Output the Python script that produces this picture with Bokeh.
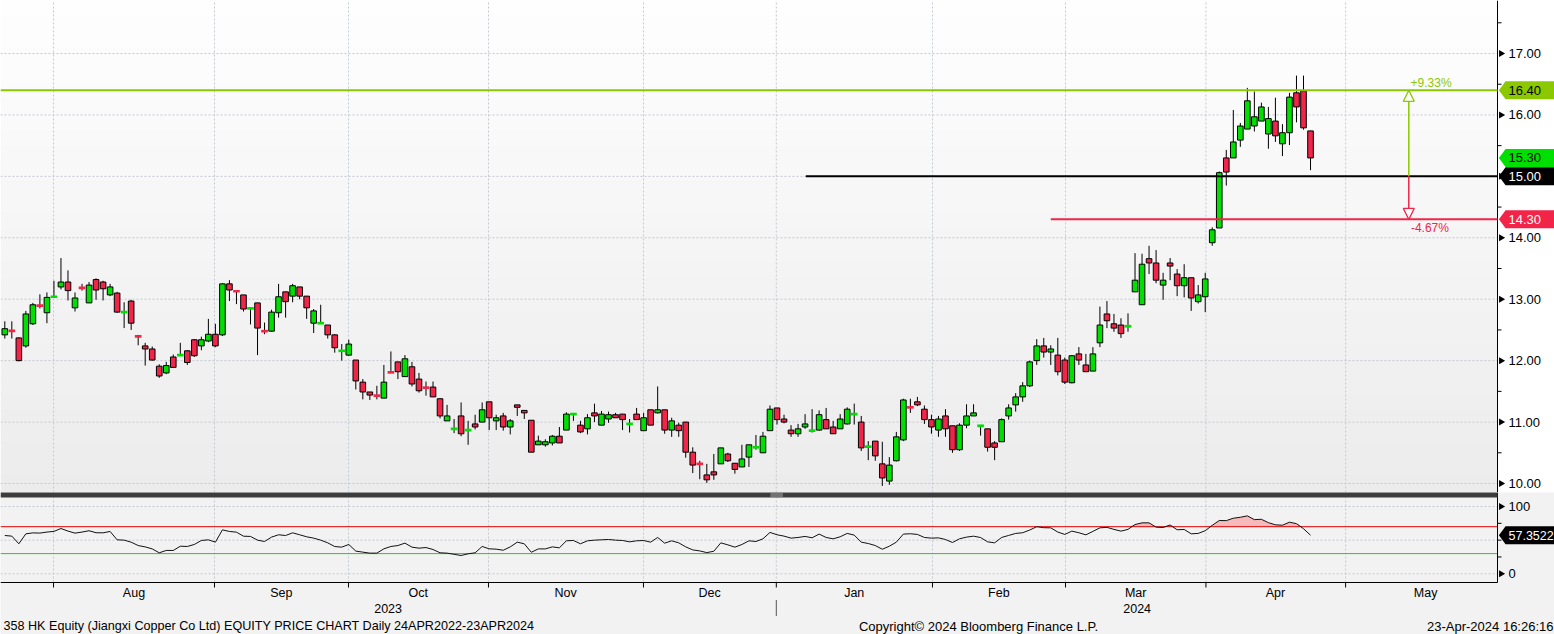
import numpy as np
from bokeh.plotting import figure
from bokeh.layouts import column
from bokeh.models import Span, BoxAnnotation, Arrow, NormalHead, Range1d, ColumnDataSource
from bokeh.core.properties import value
from bokeh.embed import file_html
from bokeh.resources import INLINE

# ---------------- data (one entry per trading day) ----------------
opens = [12.42, 12.50, 12.37, 12.24, 12.60, 12.91, 12.78, 13.03, 13.20, 13.28,
         12.86, 13.20, 12.94, 13.32, 13.28, 13.07, 13.10, 12.78, 12.97, 12.41,
         12.24, 12.19, 11.91, 11.80, 12.06, 12.08, 12.16, 12.34, 12.24, 12.32,
         12.43, 12.42, 13.25, 13.14, 13.07, 12.84, 12.94, 12.49, 12.48, 12.78,
         13.12, 13.05, 13.20, 13.05, 12.61, 12.60, 12.58, 12.42, 12.15, 12.09,
         12.01, 11.65, 11.49, 11.44, 11.39, 11.82, 11.98, 11.74, 11.90, 11.70,
         11.57, 11.57, 11.38, 11.02, 10.88, 11.10, 10.86, 10.97, 11.00, 11.33,
         11.02, 11.10, 10.92, 11.28, 11.19, 11.03, 10.63, 10.63, 10.66, 10.77,
         10.87, 11.12, 10.95, 10.89, 11.15, 10.95, 11.05, 11.12, 11.13, 10.96,
         11.13, 10.86, 11.20, 11.15, 11.20, 10.87, 10.95, 11.00, 10.51, 10.33,
         10.14, 10.19, 10.32, 10.48, 10.33, 10.27, 10.43, 10.58, 10.50, 10.86,
         11.23, 11.05, 10.87, 10.81, 10.92, 10.85, 10.87, 11.04, 10.92, 10.89,
         10.97, 11.12, 11.00, 10.59, 10.69, 10.32, 10.04, 10.37, 10.71, 11.25,
         11.33, 11.21, 11.04, 10.87, 11.10, 10.94, 10.55, 10.95, 11.10, 10.93,
         10.89, 10.66, 10.68, 11.10, 11.28, 11.41, 11.59, 12.00, 12.24, 12.14,
         12.09, 12.01, 11.64, 12.11, 11.93, 11.83, 12.29, 12.76, 12.60, 12.58,
         12.55, 13.12, 12.91, 13.66, 13.59, 13.23, 13.59, 13.41, 13.22, 13.35,
         12.96, 13.04, 13.92, 14.16, 15.30, 15.30, 15.59, 15.77, 15.82, 15.90,
         15.69, 15.90, 15.53, 15.71, 16.36, 16.39, 15.74]
highs = [12.64, 12.64, 12.38, 12.81, 12.94, 13.08, 13.11, 13.30, 13.67, 13.47,
         13.11, 13.25, 13.28, 13.34, 13.30, 13.25, 13.12, 12.95, 12.99, 12.42,
         12.29, 12.23, 11.94, 11.98, 12.10, 12.29, 12.17, 12.35, 12.39, 12.68,
         12.60, 13.26, 13.31, 13.14, 13.07, 12.86, 12.94, 12.62, 12.83, 13.25,
         13.12, 13.25, 13.20, 13.05, 12.84, 12.91, 12.58, 12.43, 12.27, 12.34,
         12.01, 11.70, 11.49, 11.59, 11.93, 12.15, 11.98, 12.09, 11.98, 11.80,
         11.66, 11.66, 11.38, 11.28, 11.05, 11.32, 11.02, 11.12, 11.32, 11.33,
         11.12, 11.15, 11.05, 11.28, 11.19, 11.03, 10.78, 10.72, 10.79, 10.92,
         11.16, 11.14, 11.02, 11.13, 11.30, 11.18, 11.17, 11.15, 11.13, 11.05,
         11.23, 11.15, 11.20, 11.58, 11.20, 11.07, 10.99, 11.00, 10.59, 10.37,
         10.32, 10.48, 10.58, 10.50, 10.33, 10.63, 10.63, 10.79, 10.84, 11.27,
         11.23, 11.12, 10.95, 10.97, 11.13, 11.21, 11.19, 11.23, 11.02, 11.13,
         11.24, 11.30, 11.10, 10.69, 10.69, 10.68, 10.43, 10.84, 11.38, 11.38,
         11.41, 11.27, 11.12, 11.10, 11.21, 10.94, 10.98, 11.29, 11.29, 10.95,
         10.89, 10.69, 11.06, 11.29, 11.47, 11.65, 12.00, 12.35, 12.37, 12.25,
         12.37, 12.05, 12.09, 12.22, 12.11, 12.22, 12.88, 12.97, 12.76, 12.69,
         12.77, 13.75, 13.74, 13.87, 13.80, 13.43, 13.67, 13.49, 13.57, 13.35,
         13.23, 13.43, 14.17, 15.08, 15.43, 16.08, 15.87, 16.44, 16.38, 16.20,
         16.13, 16.28, 15.85, 16.36, 16.64, 16.64, 15.74]
lows = [12.36, 12.36, 11.99, 12.21, 12.58, 12.85, 12.61, 13.03, 13.16, 12.98,
        12.80, 13.14, 12.94, 12.99, 12.98, 13.05, 12.78, 12.53, 12.50, 12.25,
        11.92, 12.00, 11.72, 11.78, 11.88, 12.08, 11.93, 12.06, 12.17, 12.30,
        12.22, 12.40, 12.97, 12.92, 12.80, 12.59, 12.09, 12.43, 12.47, 12.70,
        12.70, 12.95, 13.00, 12.68, 12.45, 12.60, 12.36, 12.13, 12.00, 12.08,
        11.53, 11.37, 11.36, 11.37, 11.39, 11.80, 11.70, 11.74, 11.58, 11.48,
        11.43, 11.41, 11.06, 11.02, 10.82, 10.77, 10.63, 10.88, 11.00, 10.87,
        10.87, 10.86, 10.80, 11.10, 11.05, 10.51, 10.63, 10.60, 10.62, 10.66,
        10.87, 11.02, 10.82, 10.80, 11.00, 10.95, 10.99, 11.07, 10.87, 10.83,
        11.04, 10.86, 10.95, 11.14, 10.81, 10.76, 10.76, 10.42, 10.17, 10.07,
        10.01, 10.06, 10.32, 10.35, 10.16, 10.27, 10.27, 10.55, 10.50, 10.86,
        10.96, 10.98, 10.76, 10.76, 10.89, 10.83, 10.86, 10.89, 10.81, 10.89,
        10.96, 10.96, 10.53, 10.38, 10.37, 9.96, 9.98, 10.36, 10.69, 11.15,
        11.26, 10.97, 10.81, 10.76, 10.76, 10.50, 10.53, 10.90, 11.10, 10.78,
        10.52, 10.38, 10.68, 11.04, 11.17, 11.33, 11.57, 11.93, 12.05, 11.93,
        11.76, 11.62, 11.63, 11.93, 11.82, 11.83, 12.22, 12.53, 12.47, 12.37,
        12.47, 13.12, 12.91, 13.41, 13.26, 12.99, 13.31, 13.05, 13.03, 12.81,
        12.93, 12.79, 13.87, 14.16, 14.85, 15.30, 15.48, 15.77, 15.73, 15.90,
        15.45, 15.56, 15.33, 15.51, 15.88, 15.76, 15.10]
closes = [12.52, 12.47, 12.00, 12.76, 12.91, 12.88, 13.03, 13.05, 13.28, 13.14,
          13.02, 13.17, 13.23, 13.15, 13.17, 13.20, 12.79, 12.80, 12.61, 12.38,
          12.19, 12.01, 11.75, 11.92, 11.89, 12.10, 11.97, 12.08, 12.34, 12.43,
          12.24, 13.25, 13.15, 13.12, 12.84, 12.86, 12.53, 12.47, 12.79, 13.04,
          12.96, 13.22, 13.05, 12.86, 12.81, 12.62, 12.42, 12.21, 12.17, 12.27,
          11.67, 11.49, 11.44, 11.42, 11.65, 11.80, 11.82, 12.03, 11.62, 11.51,
          11.55, 11.41, 11.10, 11.10, 10.90, 10.81, 10.88, 10.92, 11.20, 11.07,
          11.07, 10.92, 11.02, 11.24, 11.15, 10.51, 10.69, 10.68, 10.77, 10.66,
          11.13, 11.14, 10.84, 11.07, 11.10, 11.13, 11.12, 11.07, 11.04, 10.98,
          11.04, 11.07, 10.95, 11.20, 10.87, 11.02, 10.86, 10.51, 10.30, 10.31,
          10.06, 10.14, 10.58, 10.37, 10.23, 10.40, 10.63, 10.60, 10.77, 11.21,
          11.04, 11.00, 10.81, 10.89, 10.97, 10.87, 11.12, 10.89, 10.81, 11.05,
          11.21, 11.14, 10.58, 10.61, 10.45, 10.09, 10.30, 10.76, 11.36, 11.23,
          11.28, 11.04, 10.92, 11.05, 10.89, 10.55, 10.95, 11.10, 11.15, 10.95,
          10.59, 10.59, 11.04, 11.23, 11.41, 11.59, 11.98, 12.24, 12.14, 12.19,
          11.82, 11.65, 12.08, 12.01, 11.82, 12.11, 12.58, 12.65, 12.53, 12.44,
          12.57, 13.31, 13.57, 13.59, 13.31, 13.31, 13.54, 13.22, 13.35, 13.02,
          13.07, 13.33, 14.13, 15.06, 15.07, 15.56, 15.82, 16.23, 15.97, 16.13,
          15.94, 15.66, 15.71, 16.29, 16.13, 15.79, 15.30]
rsi = [56.9, 56.0, 44.6, 59.4, 60.8, 60.5, 62.0, 63.0, 67.3, 63.5,
       60.4, 62.0, 64.0, 61.0, 60.9, 62.9, 50.5, 50.0, 47.0, 42.0,
       40.0, 37.0, 31.2, 34.7, 34.7, 41.0, 40.6, 43.6, 49.5, 50.5,
       47.0, 65.3, 62.9, 61.9, 55.9, 55.5, 50.0, 48.0, 54.5, 58.0,
       56.9, 60.9, 58.0, 55.0, 53.0, 50.0, 46.0, 40.5, 39.6, 43.6,
       33.7, 32.2, 30.7, 30.7, 37.1, 40.6, 42.0, 45.6, 39.6, 38.1,
       39.0, 36.1, 31.2, 30.7, 29.0, 27.2, 29.7, 31.2, 40.6, 37.1,
       36.6, 35.0, 40.0, 47.0, 44.6, 32.0, 37.0, 37.0, 40.0, 38.6,
       49.0, 49.5, 44.6, 49.0, 50.0, 50.5, 51.0, 50.0, 49.5, 47.5,
       49.0, 49.5, 47.0, 54.0, 45.5, 49.0, 46.0, 40.0, 35.5, 34.0,
       31.5, 33.5, 46.0, 43.0, 39.6, 43.5, 49.0, 48.0, 52.0, 61.5,
       58.0, 56.0, 53.0, 54.0, 55.5, 53.5, 59.0, 54.0, 52.0, 55.0,
       60.0, 57.5, 47.0, 45.0, 42.0, 36.5, 41.0, 47.0, 59.0, 59.5,
       58.5, 54.0, 53.0, 53.4, 51.0, 46.5, 52.0, 54.5, 55.9, 53.9,
       47.5, 46.0, 54.0, 57.0, 60.0, 61.0, 65.0, 70.0, 68.5, 68.3,
       62.0, 58.5, 63.4, 61.0, 57.9, 63.0, 68.3, 69.0, 66.0, 63.4,
       66.0, 73.2, 75.7, 75.7, 69.3, 68.8, 72.5, 65.4, 65.9, 59.4,
       60.0, 64.0, 72.0, 79.2, 79.0, 82.6, 84.0, 86.1, 80.5, 81.0,
       76.0, 72.8, 72.2, 76.7, 74.5, 67.0, 57.3522]

month_names = ["Aug", "Sep", "Oct", "Nov", "Dec", "Jan", "Feb", "Mar", "Apr", "May"]
month_starts = [6.94, 29.87, 48.96, 68.90, 90.98, 109.90, 132.15, 151.10, 171.10, 191.00]
month_label_pos = [18.4, 39.4, 58.9, 79.9, 100.4, 121.0, 141.6, 161.1, 181.0, 202.4]
year_names = ["2023", "2024"]
year_label_pos = [54.6, 161.3]
year_break = 109.9
price_ticks = [10, 11, 12, 13, 14, 15, 16, 17]
price_minor = [10.5, 11.5, 12.5, 13.5, 14.5, 15.5, 16.5, 17.5]
rsi_ticks = [0, 100]
rsi_minor = [25, 50, 75]
rsi_grid = [0, 50, 100]
rsi_high, rsi_low = 70, 30
target_level = 16.40
ref_level = 15.00
stop_level = 14.30
ref_line_from = 114.1
stop_line_from = 149.0
arrow_at = 200.0
title_text = "358 HK Equity (Jiangxi Copper Co Ltd) EQUITY PRICE CHART  Daily 24APR2022-23APR2024"
copyright_text = "Copyright\u00a9 2024 Bloomberg Finance L.P."
stamp_text = "23-Apr-2024 16:26:16"

# ---------------- geometry / styling ----------------
FONT = "Liberation Sans"
GREEN = "#00E000"
RED = "#F22448"
LIME = "#8CC800"
GRID = "#C3C8D2"
PX_IDX = 7.02            # pixels per trading day
X_SHIFT = 4.3            # pixel of the first candle
W_TOTAL, H_PRICE, H_LOWER = 1554, 492, 142
AXIS_PX = 1497

def ix(px):              # page pixel -> index coordinate
    return (px - X_SHIFT) / PX_IDX

X0, XR = ix(0), ix(W_TOTAL)
X_AX = ix(AXIS_PX)
PX_PRICE = 61.43
PY1 = 17 + 53 / PX_PRICE
PY0 = PY1 - H_PRICE / PX_PRICE
PX_RSI = 0.673
RY1 = 100 + (506 - 492) / PX_RSI
RY0 = RY1 - H_LOWER / PX_RSI

def ry(page_y):
    return RY1 - (page_y - 492) / PX_RSI

o = np.array(opens); h = np.array(highs); l = np.array(lows); c = np.array(closes)
idx = np.arange(len(c))
up = c >= o
solid = np.abs(c - o) >= 0.035

def txt(fig, xs, ys, texts, size, color="black", align="left", font=FONT):
    fig.text(x=xs, y=ys, text=texts, text_font=value(font), text_font_size=value(size),
             text_color=color, text_align=align, text_baseline="middle")

# ---------------- price panel ----------------
p = figure(width=W_TOTAL, height=H_PRICE, x_range=Range1d(X0, XR), y_range=Range1d(PY0, PY1),
           output_backend="svg", toolbar_location=None, x_axis_location=None, y_axis_location=None,
           min_border_left=0, min_border_right=0, min_border_top=0, min_border_bottom=0,
           outline_line_color=None, background_fill_color="#FFFFFF", border_fill_color="#FFFFFF")
p.xgrid.visible = False
p.ygrid.visible = False

nb = 30
edges = np.linspace(PY1, PY0, nb + 1)
for k in range(nb):
    g = int(round(254 - (254 - 236) * k / (nb - 1)))
    p.add_layout(BoxAnnotation(top=edges[k] + 0.02, bottom=edges[k + 1], right=X_AX,
                               fill_color=f"#{g:02x}{g:02x}{g:02x}", fill_alpha=1, line_alpha=0, level="image"))

# grid
p.segment(x0=[X0] * len(price_ticks), y0=price_ticks, x1=[X_AX] * len(price_ticks), y1=price_ticks,
          line_color=GRID, line_dash="2 2", line_width=1)
p.segment(x0=month_starts, y0=[PY0] * len(month_starts), x1=month_starts, y1=[PY1] * len(month_starts),
          line_color=GRID, line_dash="2 2", line_width=1)

# right axis (drawn)
p.segment(x0=[X_AX], y0=[PY0], x1=[X_AX], y1=[PY1], line_color="black", line_width=1)
p.segment(x0=[X_AX] * len(price_minor), y0=price_minor, x1=[X_AX + 4 / PX_IDX] * len(price_minor),
          y1=price_minor, line_color="black", line_width=1)
p.scatter(x=[X_AX + 3.6 / PX_IDX] * len(price_ticks), y=price_ticks, marker="triangle", size=7,
          angle=-np.pi / 2, fill_color="black", line_color=None)
txt(p, [ix(1508)] * len(price_ticks), price_ticks, [f"{t:.2f}" for t in price_ticks], "13px")

# candles
src = ColumnDataSource(dict(x=idx, h=h, l=l))
p.segment(x0="x", y0="l", x1="x", y1="h", source=src, line_color="black", line_width=1)

def sub(mask):
    return ColumnDataSource(dict(x=idx[mask], top=np.maximum(o, c)[mask], bot=np.minimum(o, c)[mask],
                                 dtop=((o + c) / 2)[mask] + 0.022, dbot=((o + c) / 2)[mask] - 0.022))

p.vbar(x="x", width=0.8, top="top", bottom="bot", source=sub(up & solid),
       fill_color=GREEN, line_color="black", line_width=1)
p.vbar(x="x", width=0.8, top="top", bottom="bot", source=sub(~up & solid),
       fill_color=RED, line_color="black", line_width=1)
p.vbar(x="x", width=0.95, top="dtop", bottom="dbot", source=sub(up & ~solid),
       fill_color=GREEN, line_color=None)
p.vbar(x="x", width=0.95, top="dtop", bottom="dbot", source=sub(~up & ~solid),
       fill_color=RED, line_color=None)

# user drawn levels
p.segment(x0=[X0], y0=[target_level], x1=[X_AX], y1=[target_level], line_color=LIME, line_width=2)
p.segment(x0=[ref_line_from], y0=[ref_level], x1=[X_AX], y1=[ref_level], line_color="black", line_width=2)
p.segment(x0=[stop_line_from], y0=[stop_level], x1=[X_AX], y1=[stop_level], line_color=RED, line_width=2)

p.add_layout(Arrow(x_start=arrow_at, y_start=ref_level, x_end=arrow_at, y_end=target_level,
                   line_color=LIME, line_width=1.5,
                   end=NormalHead(size=11, fill_color="white", line_color=LIME, line_width=1.2)))
p.add_layout(Arrow(x_start=arrow_at, y_start=ref_level, x_end=arrow_at, y_end=stop_level,
                   line_color=RED, line_width=1.5,
                   end=NormalHead(size=11, fill_color="white", line_color=RED, line_width=1.2)))

up_pct = (target_level - ref_level) / ref_level * 100
dn_pct = (stop_level - ref_level) / ref_level * 100
txt(p, [arrow_at + 0.25], [target_level + 7 / PX_PRICE], [f"{up_pct:+.2f}%"], "12px", LIME)
txt(p, [arrow_at + 0.3], [stop_level - 9 / PX_PRICE], [f"{dn_pct:+.2f}%"], "12px", RED)

def value_box(fig, y, unit_px, fill, label, color, size="13px"):
    hh = 9.0 / unit_px
    tip = X_AX + 0.2
    sh = X_AX + 1.15
    right = XR + 1
    fig.patch(x=[tip, sh, right, right, sh], y=[y, y + hh, y + hh, y - hh, y - hh],
              fill_color=fill, line_color=None)
    txt(fig, [ix(1508)], [y], [label], size, color)

value_box(p, target_level, PX_PRICE, LIME, f"{target_level:.2f}", "black")
value_box(p, closes[-1], PX_PRICE, GREEN, f"{closes[-1]:.2f}", "black")
value_box(p, ref_level, PX_PRICE, "black", f"{ref_level:.2f}", "white")
value_box(p, stop_level, PX_PRICE, RED, f"{stop_level:.2f}", "white")

# ---------------- RSI panel + time axis ----------------
r = figure(width=W_TOTAL, height=H_LOWER, x_range=p.x_range, y_range=Range1d(RY0, RY1),
           output_backend="svg", toolbar_location=None, x_axis_location=None, y_axis_location=None,
           min_border_left=0, min_border_right=0, min_border_top=0, min_border_bottom=0,
           outline_line_color=None, background_fill_color="#F2F2F2", border_fill_color="#F2F2F2")
r.xgrid.visible = False
r.ygrid.visible = False

AX_Y = ry(582)
BAR_BOT = ry(497)
r.segment(x0=[X0] * len(rsi_grid), y0=rsi_grid, x1=[X_AX] * len(rsi_grid), y1=rsi_grid,
          line_color=GRID, line_dash="2 2", line_width=1)
r.segment(x0=month_starts, y0=[AX_Y] * len(month_starts), x1=month_starts, y1=[BAR_BOT] * len(month_starts),
          line_color=GRID, line_dash="2 2", line_width=1)

rsi_arr = np.array(rsi)
r.varea(x=idx, y1=np.full(len(idx), rsi_high), y2=np.maximum(rsi_arr, rsi_high), fill_color="#F7B9B9")
r.segment(x0=[X0, X0], y0=[rsi_high, rsi_low], x1=[X_AX, X_AX], y1=[rsi_high, rsi_low],
          line_color=["#E00000", "#22CC22"], line_width=1)
r.line(idx, rsi_arr, line_color="#111111", line_width=1)

# separator bar
r.add_layout(BoxAnnotation(bottom=BAR_BOT, top=RY1 + 1, right=X_AX, fill_color="#3C3C3C",
                           fill_alpha=1, line_alpha=0))
for dy in (493.6, 495.4):
    r.add_layout(BoxAnnotation(left=year_break - 0.85, right=year_break + 0.95, bottom=ry(dy + 0.5),
                               top=ry(dy - 0.5), fill_color="#A8A8A8", fill_alpha=1, line_alpha=0))

# axes (drawn)
r.segment(x0=[X0], y0=[AX_Y], x1=[X_AX], y1=[AX_Y], line_color="black", line_width=1)
r.segment(x0=month_starts, y0=[AX_Y] * len(month_starts), x1=month_starts,
          y1=[ry(587)] * len(month_starts), line_color="black", line_width=1)
r.segment(x0=[X_AX], y0=[AX_Y], x1=[X_AX], y1=[RY1], line_color="black", line_width=1)
r.segment(x0=[X_AX] * len(rsi_minor), y0=rsi_minor, x1=[X_AX + 4 / PX_IDX] * len(rsi_minor),
          y1=rsi_minor, line_color="black", line_width=1)
r.scatter(x=[X_AX + 3.6 / PX_IDX] * len(rsi_ticks), y=rsi_ticks, marker="triangle", size=7,
          angle=-np.pi / 2, fill_color="black", line_color=None)
txt(r, [ix(1508)] * len(rsi_ticks), rsi_ticks, [str(t) for t in rsi_ticks], "13px")
value_box(r, rsi[-1], PX_RSI, "black", f"{rsi[-1]:.4f}", "white", "12.5px")

txt(r, month_label_pos, [ry(592)] * len(month_names), month_names, "12.5px", align="center")
txt(r, year_label_pos, [ry(608)] * len(year_names), year_names, "12.5px", align="center")
r.segment(x0=[year_break], y0=[ry(599.5)], x1=[year_break], y1=[ry(615.5)], line_color="#555555", line_width=1)

txt(r, [ix(3)], [ry(625.5)], [title_text], "12.6px")
txt(r, [ix(978)], [ry(625.5)], [copyright_text], "13px", align="center")
txt(r, [ix(1553)], [ry(625.5)], [stamp_text], "13px", align="right")

layout = column(p, r, spacing=0)
open("out.html", "w").write(file_html(layout, INLINE, title="358 HK Equity"))
